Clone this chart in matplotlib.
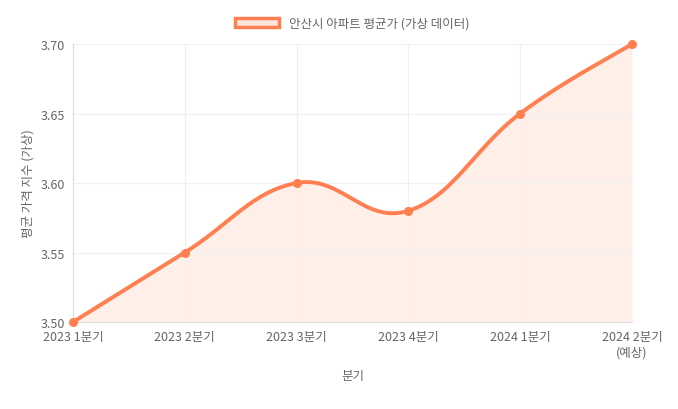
import numpy as np
import matplotlib.pyplot as plt
from matplotlib.patches import Patch

plt.rcParams["font.family"] = ["Noto Sans CJK JP", "Noto Sans CJK KR", "Noto Sans CJK SC", "DejaVu Sans"]

categories = ["2023 1분기", "2023 2분기", "2023 3분기", "2023 4분기", "2024 1분기", "2024 2분기\n(예상)"]
values = [3.50, 3.55, 3.60, 3.58, 3.65, 3.70]
yticks = [3.50, 3.55, 3.60, 3.65, 3.70]

color = "#ff7f50"
fig = plt.figure(figsize=(6.78, 4.10), dpi=100)
ax = fig.add_axes([73 / 678, 1 - 323 / 410, 559 / 678, 278 / 410])

# smooth the line like Chart.js (bezier with tension 0.4)
x = np.arange(len(values), dtype=float)
y = np.array(values)
xs, ys = [], []
t = np.linspace(0, 1, 30)
for i in range(len(x) - 1):
    p0 = np.array([x[i], y[i]])
    p3 = np.array([x[i + 1], y[i + 1]])
    prev = np.array([x[i - 1], y[i - 1]]) if i > 0 else p0
    nxt = np.array([x[i + 2], y[i + 2]]) if i + 2 < len(x) else p3
    p1 = p0 + (p3 - prev) * 0.4 / 2
    p2 = p3 - (nxt - p0) * 0.4 / 2
    seg = ((1 - t) ** 3)[:, None] * p0 + (3 * (1 - t) ** 2 * t)[:, None] * p1 \
        + (3 * (1 - t) * t ** 2)[:, None] * p2 + (t ** 3)[:, None] * p3
    xs.extend(seg[:, 0]); ys.extend(seg[:, 1])

ax.fill_between(xs, ys, 3.50, color=color, alpha=0.12, lw=0)
ax.plot(xs, ys, color=color, lw=2.8, clip_on=False)
ax.plot(x, y, "o", color=color, ms=5.5, clip_on=False, zorder=5)

ax.set_xlim(0, len(values) - 1)
ax.set_ylim(3.50, 3.70)
ax.set_xticks(x)
ax.set_xticklabels(categories, fontsize=9, color="#666666")
ax.set_yticks(yticks)
ax.set_yticklabels([f"{v:.2f}" for v in yticks], fontsize=9, color="#666666")
ax.grid(color="#f0f0f0", lw=0.8)
ax.tick_params(length=0, pad=6)
for name, s in ax.spines.items():
    s.set_color("#dddddd")
    s.set_visible(name in ("left", "bottom"))
ax.set_xlabel("분기", fontsize=9, color="#666666", labelpad=8)
ax.set_ylabel("평균 가격 지수 (가상)", fontsize=9, color="#666666")
handle = Patch(facecolor="#ffe5da", edgecolor=color, lw=2.5)
ax.legend([handle], ["안산시 아파트 평균가 (가상 데이터)"], loc="lower center",
          bbox_to_anchor=(0.5, 1.01), frameon=False, fontsize=9,
          handlelength=3.5, handleheight=0.8, labelcolor="#666666")
fig.savefig("out.png", dpi=100)
